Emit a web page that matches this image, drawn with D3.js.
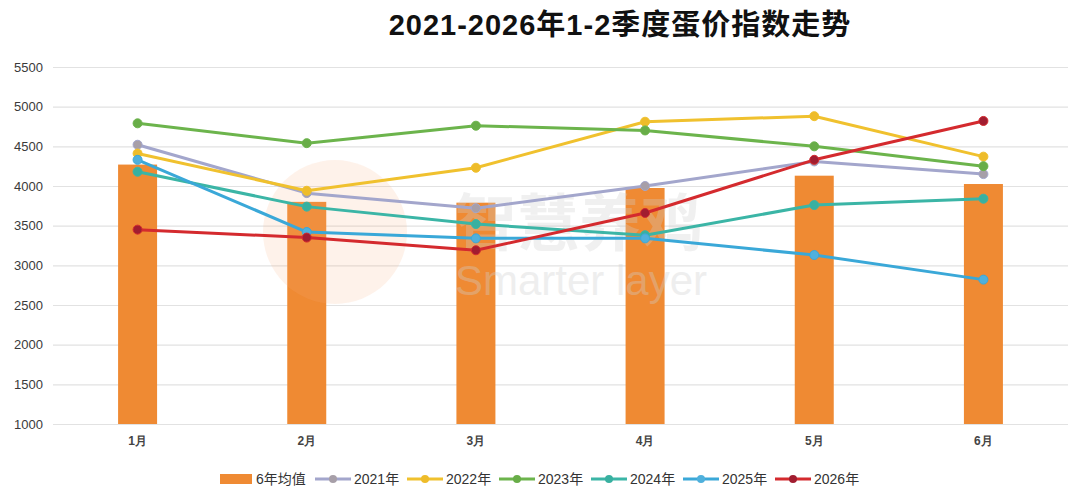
<!DOCTYPE html>
<html>
<head>
<meta charset="utf-8">
<script src="https://cdn.jsdelivr.net/npm/d3@7"></script>
<style>
  body { margin: 0; background: #fff; }
  svg { display: block; font-family: "Liberation Sans", "Noto Sans CJK SC", sans-serif; }
</style>
</head>
<body>
<div id="chart"></div>
<script>
// values
const months = ["1月", "2月", "3月", "4月", "5月", "6月"];
const yTicks = [1000, 1500, 2000, 2500, 3000, 3500, 4000, 4500, 5000, 5500];
const avg6 = [4270, 3800, 3790, 3975, 4130, 4025];
const y2021 = [4520, 3910, 3720, 4000, 4310, 4150];
const y2022 = [4410, 3940, 4230, 4810, 4880, 4370];
const y2023 = [4790, 4540, 4760, 4700, 4500, 4250];
const y2024 = [4180, 3740, 3520, 3380, 3760, 3840];
const y2025 = [4330, 3420, 3340, 3340, 3130, 2820];
const y2026 = [3450, 3350, 3190, 3660, 4330, 4820];

const seriesNames = ["2021年", "2022年", "2023年", "2024年", "2025年", "2026年"];
const seriesValues = [y2021, y2022, y2023, y2024, y2025, y2026];
const lineColors = ["#a3a6cc", "#f0c12e", "#6cb44c", "#3bb5a6", "#3aa8d8", "#d42a2e"];
const dotColors = ["#a79fa8", "#eebc2a", "#68ad48", "#38b0a0", "#4fb0dc", "#a11d30"];

const width = 1080, height = 500;
const plotLeft = 53, plotRight = 1068, plotTop = 67, plotBottom = 424;

const svg = d3.select("#chart").append("svg")
    .attr("width", width)
    .attr("height", height);

const x = d3.scaleBand().domain(months).range([plotLeft, plotRight]);
const y = d3.scaleLinear().domain([1000, 5500]).range([plotBottom, plotTop]);

// title
svg.append("text")
    .attr("x", 620)
    .attr("y", 35)
    .attr("text-anchor", "middle")
    .attr("font-size", 29)
    .attr("font-weight", "bold")
    .attr("letter-spacing", 1)
    .attr("fill", "#111")
    .text("2021-2026年1-2季度蛋价指数走势");

// grid + y labels
const yAxis = d3.axisLeft(y).tickValues(yTicks).tickFormat(d3.format("d"))
    .tickSize(-(plotRight - plotLeft)).tickPadding(10);
const yAxisG = svg.append("g")
    .attr("transform", "translate(" + plotLeft + ",0)")
    .call(yAxis);
yAxisG.select(".domain").remove();
yAxisG.selectAll(".tick line").attr("stroke", "#e2e2e2").attr("stroke-width", 1.2);
yAxisG.selectAll(".tick text")
    .attr("font-size", 13)
    .attr("fill", "#3a3a3a")
    .attr("font-family", "Liberation Sans, sans-serif");

// x labels
const xAxis = d3.axisBottom(x).tickSize(0).tickPadding(12);
const xAxisG = svg.append("g")
    .attr("transform", "translate(0," + plotBottom + ")")
    .call(xAxis);
xAxisG.select(".domain").remove();
xAxisG.selectAll(".tick text")
    .attr("font-size", 12)
    .attr("font-weight", "bold")
    .attr("fill", "#444");

// bars
const barW = 39;
svg.selectAll("rect.bar")
    .data(avg6)
    .enter()
    .append("rect")
    .attr("class", "bar")
    .attr("x", (d, i) => x(months[i]) + x.bandwidth() / 2 - barW / 2)
    .attr("y", d => y(d))
    .attr("width", barW)
    .attr("height", d => plotBottom - y(d))
    .attr("fill", "#ef8a33");

// faint watermark
const wm = svg.append("g").attr("pointer-events", "none");
wm.append("circle").attr("cx", 335).attr("cy", 232).attr("r", 72)
    .attr("fill", "#f6b07a").attr("opacity", 0.16);
wm.append("text").attr("x", 455).attr("y", 246)
    .attr("font-size", 62).attr("font-weight", "bold")
    .attr("fill", "#cfcfcf").attr("opacity", 0.3)
    .text("智慧养鸡");
wm.append("text").attr("x", 455).attr("y", 295)
    .attr("font-size", 42)
    .attr("fill", "#cfcfcf").attr("opacity", 0.35)
    .text("Smarter layer");

// lines
const line = d3.line()
    .x((d, i) => x(months[i]) + x.bandwidth() / 2)
    .y(d => y(d));

seriesValues.forEach((vals, s) => {
    const g = svg.append("g");
    g.append("path")
        .datum(vals)
        .attr("d", line)
        .attr("fill", "none")
        .attr("stroke", lineColors[s])
        .attr("stroke-width", 3)
        .attr("stroke-linejoin", "round");
    g.selectAll("circle")
        .data(vals)
        .enter()
        .append("circle")
        .attr("cx", (d, i) => x(months[i]) + x.bandwidth() / 2)
        .attr("cy", d => y(d))
        .attr("r", 4.5)
        .attr("fill", dotColors[s])
        .attr("stroke", lineColors[s])
        .attr("stroke-width", 1);
});

// legend
const leg = svg.append("g").attr("font-size", 14).attr("fill", "#333");
const legY = 479;
leg.append("rect").attr("x", 220).attr("y", legY - 5).attr("width", 32).attr("height", 10).attr("fill", "#ef8a33");
leg.append("text").attr("x", 256).attr("y", legY + 5).text("6年均值");
seriesNames.forEach((name, s) => {
    const lx = 315 + s * 92;
    leg.append("line")
        .attr("x1", lx).attr("x2", lx + 36)
        .attr("y1", legY).attr("y2", legY)
        .attr("stroke", lineColors[s]).attr("stroke-width", 3);
    leg.append("circle")
        .attr("cx", lx + 18).attr("cy", legY).attr("r", 4)
        .attr("fill", dotColors[s]);
    leg.append("text").attr("x", lx + 39).attr("y", legY + 5).text(name);
});
</script>
</body>
</html>
